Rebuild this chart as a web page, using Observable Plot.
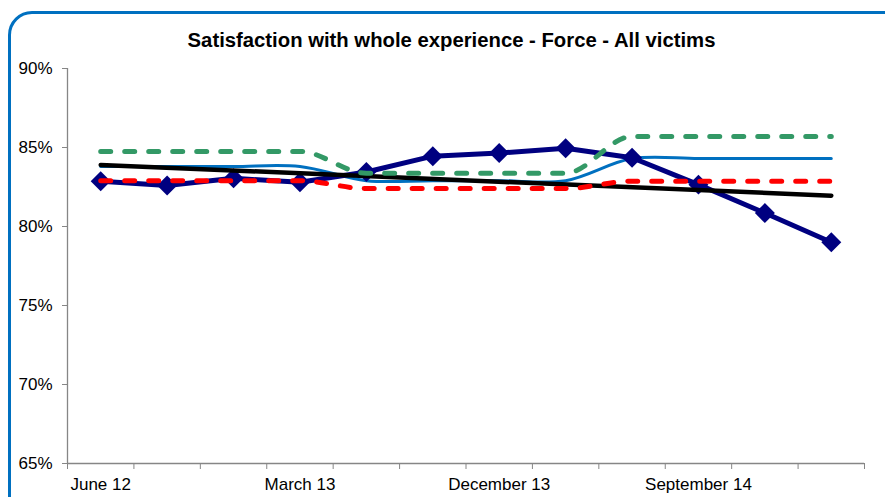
<!DOCTYPE html>
<html>
<head>
<meta charset="utf-8">
<script src="https://cdn.jsdelivr.net/npm/d3@7"></script>
<script src="https://cdn.jsdelivr.net/npm/@observablehq/plot@0.6"></script>
<style>
  html, body { margin: 0; padding: 0; background: #fff; }
  #wrap { position: relative; width: 885px; height: 497px; overflow: hidden; font-family: "Liberation Sans", Arial, sans-serif; }
  #frame { position: absolute; left: 8px; top: 11px; width: 900px; height: 520px; border: 3px solid #0070C0; border-radius: 24px; box-sizing: border-box; pointer-events: none; }
  #title { height: 50px; box-sizing: border-box; padding-top: 30px; padding-left: 18px; text-align: center; font-weight: bold; font-size: 20.3px; line-height: 20px; color: #000; }
  #chart svg { display: block; }
</style>
</head>
<body>
<div id="wrap">
  <div id="title">Satisfaction with whole experience - Force - All victims</div>
  <div id="chart"></div>
  <div id="frame"></div>
</div>
<script>
// Quarterly categories
const quarters = ["Jun 12","Sep 12","Dec 12","Mar 13","Jun 13","Sep 13","Dec 13","Mar 14","Jun 14","Sep 14","Dec 14","Mar 15"];
// Labelled ticks
const tickQuarters = ["Jun 12","Mar 13","Dec 13","Sep 14"];
const tickLabels = ["June 12","March 13","December 13","September 14"];
// Y ticks
const yTicks = [65, 70, 75, 80, 85, 90];

// Series (percent)
const satisfaction = [82.87, 82.6, 83.05, 82.8, 83.45, 84.45, 84.65, 84.95, 84.35, 82.65, 80.85, 79.0];
const average      = [83.8, 83.8, 83.8, 83.8, 82.9, 82.9, 82.9, 82.9, 84.3, 84.3, 84.3, 84.3];
const upper        = [84.75, 84.75, 84.75, 84.75, 83.37, 83.37, 83.37, 83.37, 85.7, 85.7, 85.7, 85.7];
const lower        = [82.9, 82.9, 82.9, 82.9, 82.4, 82.4, 82.4, 82.4, 82.87, 82.87, 82.87, 82.87];
const trendQuarters = ["Jun 12", "Mar 15"];
const trendValues   = [83.9, 81.95];

const idx = q => quarters.indexOf(q);
const trend = trendQuarters.map((q, i) => ({x: idx(q), y: trendValues[i]}));
const boundaries = d3.range(quarters.length + 1).map(i => i - 0.5);

const chart = Plot.plot({
  width: 885,
  height: 447,
  marginLeft: 67,
  marginRight: 21,
  marginTop: 18,
  marginBottom: 34,
  style: { fontFamily: "Liberation Sans, Arial, sans-serif", fontSize: "17px", color: "#000", background: "transparent" },
  x: { type: "linear", domain: [-0.5, quarters.length - 0.5] },
  y: { domain: [65, 90] },
  marks: [
    Plot.axisY({ ticks: yTicks, tickFormat: d => d + "%", tickSize: 5, tickPadding: 10, stroke: "#868686", fill: "#000", fontSize: 17, label: null }),
    Plot.axisX({ ticks: boundaries, tickFormat: () => "", tickSize: 6, stroke: "#868686", label: null }),
    Plot.axisX({ ticks: tickQuarters.map(idx), tickFormat: i => tickLabels[tickQuarters.indexOf(quarters[i])], tickSize: 0, tickPadding: 14, fill: "#000", fontSize: 17, label: null }),
    Plot.ruleX([-0.5], { stroke: "#868686", strokeWidth: 1.3 }),
    Plot.ruleY([65], { stroke: "#868686", strokeWidth: 1.3 }),
    Plot.line(average, { x: (d, i) => i, y: d => d, stroke: "#0070C0", strokeWidth: 3, curve: "catmull-rom" }),
    Plot.line(satisfaction, { x: (d, i) => i, y: d => d, stroke: "#000080", strokeWidth: 5, strokeLinejoin: "round" }),
    Plot.dot(satisfaction, { x: (d, i) => i, y: d => d, symbol: "diamond2", r: 9, fill: "#000080", stroke: "none" }),
    Plot.line(trend, { x: "x", y: "y", stroke: "#000", strokeWidth: 4.5 }),
    Plot.line(upper, { x: (d, i) => i, y: d => d, stroke: "#339966", strokeWidth: 5, strokeDasharray: "10,14", strokeLinecap: "round", curve: "monotone-x" }),
    Plot.line(lower, { x: (d, i) => i, y: d => d, stroke: "#FF0000", strokeWidth: 5, strokeDasharray: "10,14", strokeLinecap: "round", curve: "monotone-x" })
  ]
});
document.getElementById("chart").appendChild(chart);
</script>
</body>
</html>
